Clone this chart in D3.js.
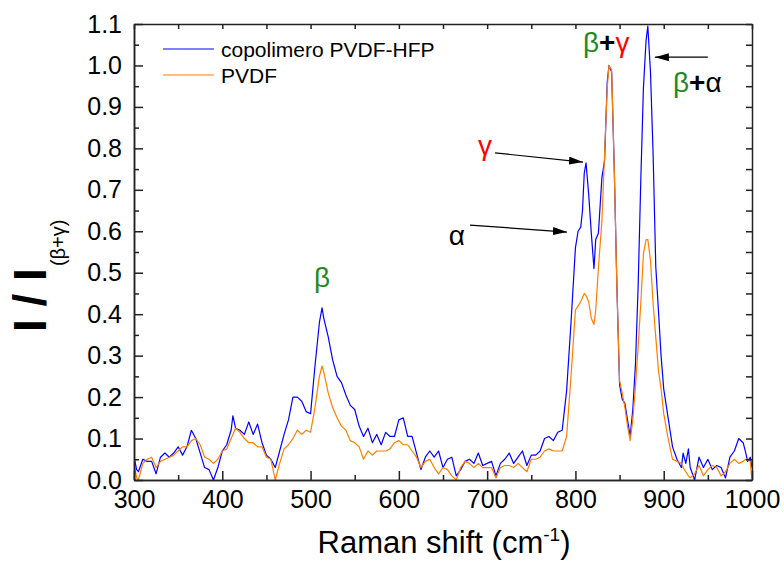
<!DOCTYPE html>
<html>
<head>
<meta charset="utf-8">
<script src="https://cdn.jsdelivr.net/npm/d3@7"></script>
<style>
  body { margin: 0; background: #fff; }
  text { font-family: "Liberation Sans", Arial, sans-serif; }
</style>
</head>
<body>
<div class="raman"></div>
<script>
const width = 784,
    height = 562,
    margin = { top: 24, bottom: 82, left: 134, right: 32 };

// Raman shift (cm-1)
const shift = [300, 303, 305, 310, 315, 320, 325, 330, 335, 340, 345, 350, 355, 360, 365, 370, 375, 380, 385, 390,
    395, 400, 405, 410, 412, 415, 420, 425, 430, 435, 440, 445, 450, 455, 460, 465, 470, 475, 480, 485,
    490, 495, 500, 505, 510, 513, 515, 520, 525, 530, 535, 540, 545, 550, 555, 560, 565, 570, 575, 580,
    585, 590, 595, 600, 605, 610, 615, 620, 625, 630, 635, 640, 645, 650, 655, 660, 665, 670, 675, 680,
    685, 690, 695, 700, 705, 710, 715, 720, 725, 730, 735, 740, 745, 750, 755, 760, 765, 770, 775, 780,
    785, 790, 795, 800, 803, 806, 808, 810, 812, 815, 818, 821, 823, 826, 830, 833, 836, 838, 841, 844,
    847, 850, 853, 856, 859, 862, 865, 868, 871, 874, 877, 880, 882, 885, 888, 891, 894, 897, 900, 905,
    910, 915, 920, 922, 925, 928, 930, 935, 940, 945, 950, 955, 960, 965, 970, 975, 980, 985, 990, 993,
    995, 998, 1000];

// copolimero PVDF-HFP
const copolymer = [0.055, 0.025, 0.02, 0.05, 0.045, 0.045, 0.015, 0.055, 0.065, 0.055, 0.065, 0.08, 0.06, 0.08, 0.12, 0.1, 0.065, 0.03, 0.025, 0.0,
    0.03, 0.07, 0.085, 0.12, 0.155, 0.125, 0.12, 0.11, 0.14, 0.11, 0.135, 0.09, 0.06, 0.05, 0.03, 0.07, 0.11, 0.145, 0.2, 0.2,
    0.19, 0.165, 0.16, 0.275, 0.38, 0.415, 0.39, 0.345, 0.29, 0.25, 0.235, 0.205, 0.18, 0.17, 0.13, 0.105, 0.125, 0.09, 0.11, 0.085,
    0.115, 0.105, 0.105, 0.145, 0.15, 0.105, 0.105, 0.065, 0.025, 0.055, 0.07, 0.055, 0.07, 0.03, 0.05, 0.055, 0.01, 0.025, 0.045, 0.05,
    0.04, 0.065, 0.035, 0.04, 0.045, 0.01, 0.04, 0.05, 0.065, 0.04, 0.055, 0.07, 0.035, 0.06, 0.06, 0.07, 0.1, 0.105, 0.095, 0.115,
    0.12, 0.215, 0.38, 0.56, 0.6, 0.61, 0.65, 0.74, 0.765, 0.69, 0.595, 0.51, 0.58, 0.595, 0.73, 0.77, 0.96, 1.0, 0.985, 0.75,
    0.465, 0.23, 0.195, 0.185, 0.145, 0.105, 0.17, 0.28, 0.465, 0.72, 0.945, 1.06, 1.095, 0.985, 0.785, 0.515, 0.41, 0.3, 0.22, 0.15,
    0.08, 0.05, 0.03, 0.065, 0.04, 0.075, 0.03, 0.0, 0.055, 0.03, 0.05, 0.025, 0.035, 0.03, 0.005, 0.055, 0.07, 0.1, 0.09, 0.065,
    0.045, 0.055, 0.03];

// PVDF
const pvdf = [0.04, 0.005, 0.0, 0.04, 0.05, 0.055, 0.03, 0.045, 0.05, 0.055, 0.06, 0.07, 0.08, 0.08, 0.095, 0.1, 0.085, 0.055, 0.05, 0.04,
    0.05, 0.07, 0.075, 0.1, 0.11, 0.125, 0.115, 0.1, 0.09, 0.09, 0.08, 0.08, 0.055, 0.05, 0.0, 0.04, 0.075, 0.085, 0.1, 0.12,
    0.11, 0.12, 0.115, 0.175, 0.25, 0.275, 0.26, 0.21, 0.175, 0.15, 0.13, 0.12, 0.095, 0.09, 0.08, 0.05, 0.07, 0.06, 0.07, 0.07,
    0.07, 0.075, 0.09, 0.095, 0.085, 0.085, 0.07, 0.055, 0.03, 0.045, 0.05, 0.03, 0.015, 0.03, 0.025, 0.01, 0.0, 0.03, 0.045, 0.04,
    0.03, 0.04, 0.03, 0.03, 0.03, 0.005, 0.03, 0.035, 0.035, 0.03, 0.04, 0.03, 0.02, 0.05, 0.05, 0.055, 0.07, 0.075, 0.07, 0.07,
    0.07, 0.105, 0.25, 0.41, 0.42, 0.43, 0.44, 0.45, 0.445, 0.43, 0.39, 0.375, 0.41, 0.51, 0.625, 0.785, 0.945, 1.0, 0.99, 0.75,
    0.465, 0.24, 0.21, 0.175, 0.13, 0.095, 0.145, 0.225, 0.32, 0.425, 0.545, 0.58, 0.58, 0.53, 0.425, 0.345, 0.265, 0.22, 0.16, 0.1,
    0.05, 0.045, 0.04, 0.03, 0.02, 0.01, 0.005, 0.015, 0.035, 0.01, 0.025, 0.035, 0.03, 0.01, 0.02, 0.04, 0.05, 0.04, 0.045, 0.05,
    0.05, 0.045, 0.0];

const xTicks = [300, 400, 500, 600, 700, 800, 900, 1000];
const yTicks = [0, 0.1, 0.2, 0.3, 0.4, 0.5, 0.6, 0.7, 0.8, 0.9, 1.0, 1.1];

const series = [
    { name: "copolimero PVDF-HFP", values: copolymer, color: "#0000ff" },
    { name: "PVDF", values: pvdf, color: "#ff7f00" }
];

const green = "#1f8a1f",
    red = "#ff0000";

const svg = d3.select(".raman")
    .append("svg")
    .attr("width", width)
    .attr("height", height);

const xScale = d3.scaleLinear()
    .domain([300, 1000])
    .range([margin.left, width - margin.right]);

const yScale = d3.scaleLinear()
    .domain([0, 1.1])
    .range([height - margin.bottom, margin.top]);

const minorX = d3.range(300, 1001, 50);
const minorY = d3.range(0, 1.101, 0.05);

// clip so the traces stay inside the frame
svg.append("clipPath")
    .attr("id", "plot-clip")
    .append("rect")
    .attr("x", margin.left)
    .attr("y", margin.top)
    .attr("width", width - margin.left - margin.right)
    .attr("height", height - margin.top - margin.bottom);

// arrow head
svg.append("defs").append("marker")
    .attr("id", "arrow")
    .attr("markerUnits", "userSpaceOnUse")
    .attr("viewBox", "0 0 14 8")
    .attr("refX", 14)
    .attr("refY", 4)
    .attr("markerWidth", 14)
    .attr("markerHeight", 8)
    .attr("orient", "auto")
    .append("path")
    .attr("d", "M0,0 L14,4 L0,8 Z")
    .attr("fill", "#000");

const line = d3.line()
    .x((d, i) => xScale(shift[i]))
    .y(d => yScale(d));

svg.append("g")
    .attr("clip-path", "url(#plot-clip)")
    .selectAll(".trace")
    .data(series)
    .join("path")
    .attr("class", "trace")
    .attr("fill", "none")
    .attr("stroke", d => d.color)
    .attr("stroke-width", 1.2)
    .attr("stroke-linejoin", "round")
    .attr("d", d => line(d.values));

// axes, ticks pointing inward
const bottom = height - margin.bottom;

svg.append("g")
    .attr("class", "xAxis")
    .attr("transform", `translate(0, ${bottom})`)
    .call(d3.axisBottom(xScale).tickValues(xTicks).tickSizeInner(-9).tickSizeOuter(0).tickPadding(10).tickFormat(d3.format("d")));

svg.append("g")
    .attr("class", "xMinor")
    .attr("transform", `translate(0, ${bottom})`)
    .call(d3.axisBottom(xScale).tickValues(minorX.filter(v => v % 100 !== 0)).tickSizeInner(-5).tickSizeOuter(0).tickFormat(""));

svg.append("g")
    .attr("class", "yAxis")
    .attr("transform", `translate(${margin.left}, 0)`)
    .call(d3.axisLeft(yScale).tickValues(yTicks).tickSizeInner(-9).tickSizeOuter(0).tickPadding(12).tickFormat(d3.format(".1f")));

svg.append("g")
    .attr("class", "yMinor")
    .attr("transform", `translate(${margin.left}, 0)`)
    .call(d3.axisLeft(yScale).tickValues(minorY.filter((v, i) => i % 2 === 1)).tickSizeInner(-5).tickSizeOuter(0).tickFormat(""));

svg.append("g")
    .attr("class", "xTop")
    .attr("transform", `translate(0, ${margin.top})`)
    .call(d3.axisTop(xScale).tickValues(minorX).tickSizeInner(-5).tickSizeOuter(0).tickFormat(""));

svg.append("g")
    .attr("class", "yRight")
    .attr("transform", `translate(${width - margin.right}, 0)`)
    .call(d3.axisRight(yScale).tickValues(minorY).tickSizeInner(-6).tickSizeOuter(0).tickFormat(""));

svg.selectAll(".domain, .tick line")
    .attr("stroke", "#222")
    .attr("stroke-width", 1.5);

svg.selectAll(".xAxis text, .yAxis text")
    .attr("font-size", 25)
    .attr("fill", "#000")
    .attr("font-family", "'Liberation Sans', Arial, sans-serif");

// axis titles
svg.append("text")
    .attr("x", (margin.left + width - margin.right) / 2 + 1)
    .attr("y", 553)
    .attr("text-anchor", "middle")
    .attr("font-size", 31)
    .text("Raman shift (cm")
    .append("tspan")
    .attr("font-size", 19)
    .attr("dy", -12)
    .text("-1")
    .append("tspan")
    .attr("font-size", 31)
    .attr("dy", 12)
    .text(")");

const yTitle = svg.append("text")
    .attr("transform", "translate(46, 332) rotate(-90)")
    .attr("font-size", 46)
    .attr("font-weight", "bold");
yTitle.append("tspan").text("I / I");
yTitle.append("tspan")
    .attr("font-size", 20)
    .attr("font-weight", "normal")
    .attr("dx", 2)
    .attr("dy", 19)
    .text("(β+γ)");

// legend
const legend = svg.append("g")
    .attr("class", "legend")
    .selectAll("g")
    .data(series)
    .join("g")
    .attr("transform", (d, i) => `translate(163, ${49 + i * 26})`);

legend.append("line")
    .attr("x1", 0)
    .attr("x2", 51)
    .attr("stroke", d => d.color)
    .attr("stroke-width", 1.2);

legend.append("text")
    .attr("x", 58)
    .attr("y", 7.5)
    .attr("font-size", 21)
    .text(d => d.name);

// peak labels
const labelSize = 28;

svg.append("text")
    .attr("x", xScale(513))
    .attr("y", yScale(0.466))
    .attr("text-anchor", "middle")
    .attr("font-size", labelSize)
    .attr("fill", green)
    .text("β");

const bg = svg.append("text")
    .attr("x", xScale(808.5))
    .attr("y", yScale(1.033))
    .attr("font-size", labelSize);
bg.append("tspan").attr("fill", green).text("β");
bg.append("tspan").attr("fill", "#000").attr("font-weight", "bold").text("+");
bg.append("tspan").attr("fill", red).text("γ");

const ba = svg.append("text")
    .attr("x", xScale(910.5))
    .attr("y", yScale(0.936))
    .attr("font-size", labelSize);
ba.append("tspan").attr("fill", green).text("β");
ba.append("tspan").attr("fill", "#000").attr("font-weight", "bold").text("+");
ba.append("tspan").attr("fill", "#000").text("α");

svg.append("text")
    .attr("x", xScale(697.5))
    .attr("y", yScale(0.784))
    .attr("text-anchor", "middle")
    .attr("font-size", labelSize)
    .attr("fill", red)
    .text("γ");

svg.append("text")
    .attr("x", xScale(665.8))
    .attr("y", yScale(0.567))
    .attr("text-anchor", "middle")
    .attr("font-size", labelSize)
    .attr("fill", "#000")
    .text("α");

// arrows: [from shift, from value, to shift, to value]
const arrows = [
    [950, 1.02, 890, 1.02],
    [709, 0.789, 808.5, 0.767],
    [680.6, 0.615, 790.4, 0.598]
];

svg.selectAll(".arrow")
    .data(arrows)
    .join("line")
    .attr("class", "arrow")
    .attr("x1", d => xScale(d[0]))
    .attr("y1", d => yScale(d[1]))
    .attr("x2", d => xScale(d[2]))
    .attr("y2", d => yScale(d[3]))
    .attr("stroke", "#000")
    .attr("stroke-width", 1.2)
    .attr("marker-end", "url(#arrow)");
</script>
</body>
</html>
